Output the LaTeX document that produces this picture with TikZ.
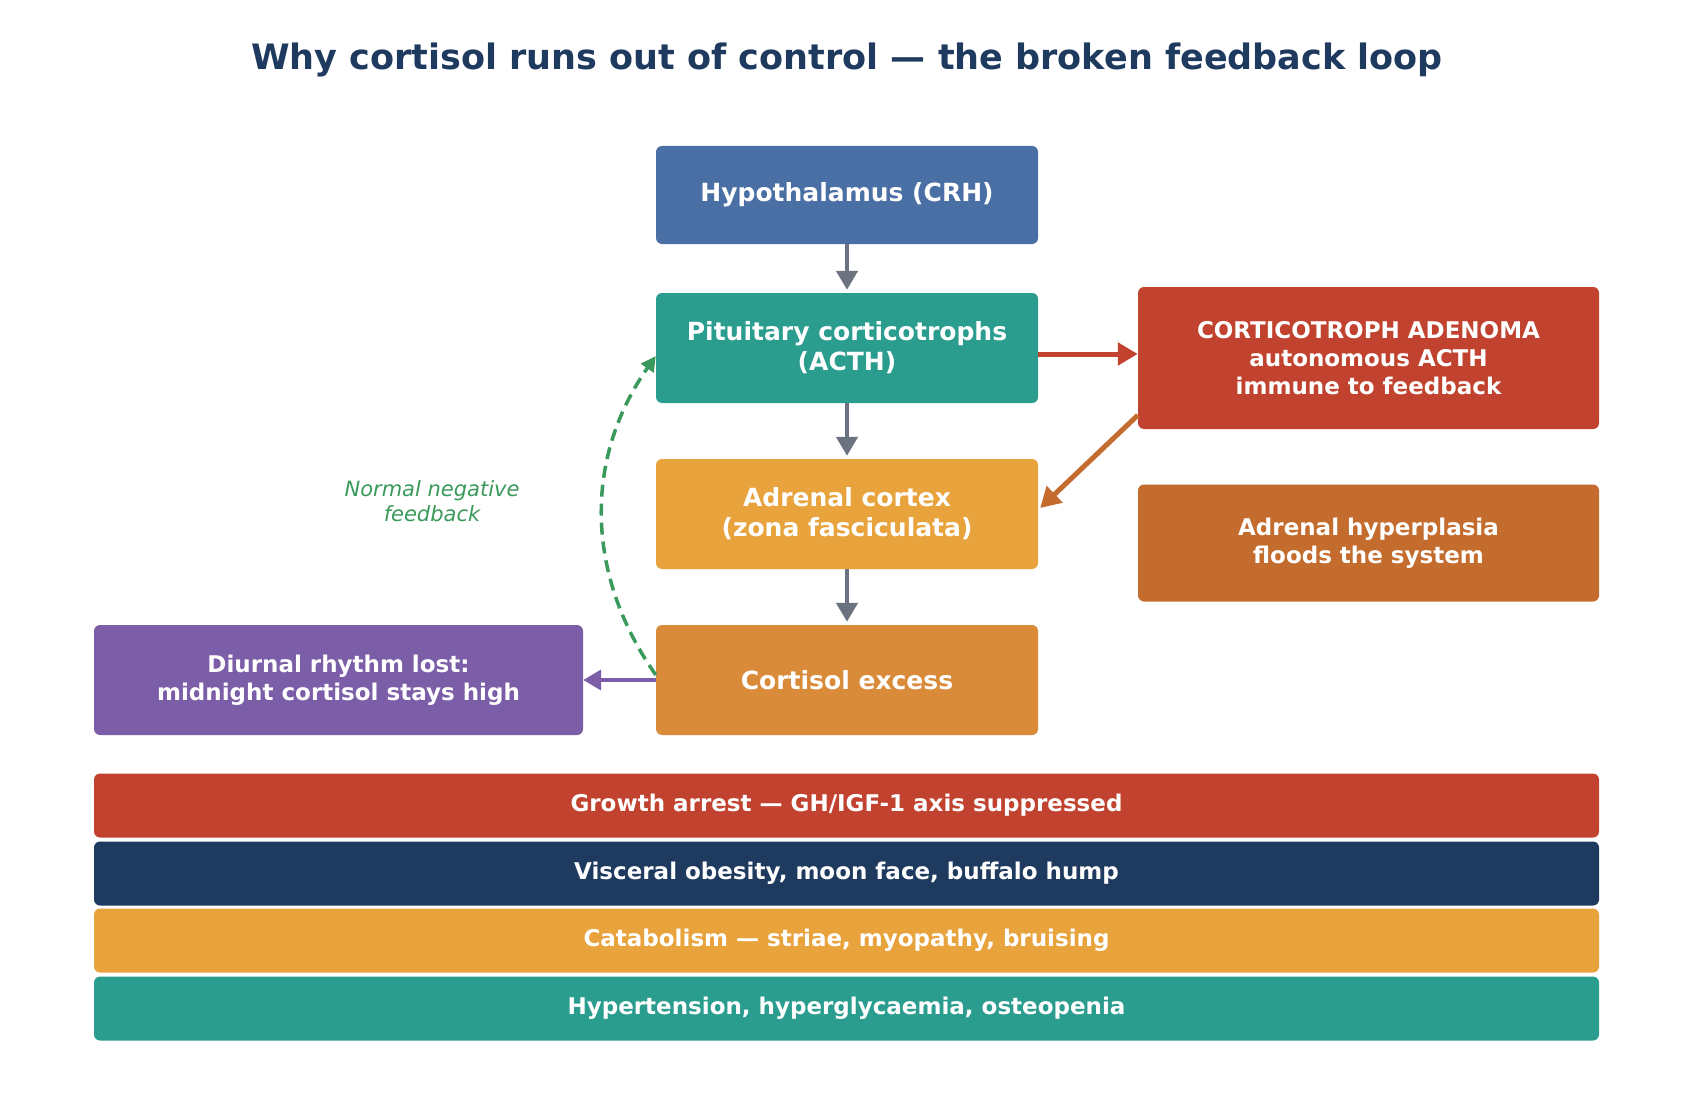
\documentclass[tikz,border=0pt]{standalone}
\usepackage{fontspec}
\setmainfont{DejaVu Sans}
\usetikzlibrary{arrows.meta}
\definecolor{navy}{HTML}{1F3A5F}
\definecolor{hypo}{HTML}{4A6FA5}
\definecolor{teal}{HTML}{2A9D8F}
\definecolor{amber}{HTML}{E8A33D}
\definecolor{cortc}{HTML}{D98B3A}
\definecolor{redc}{HTML}{C1432F}
\definecolor{rust}{HTML}{C46B2E}
\definecolor{purp}{HTML}{7B5EA7}
\definecolor{grayc}{HTML}{6B7280}
\definecolor{greenc}{HTML}{3A9A5B}
\begin{document}
\begin{tikzpicture}[x=1pt,y=-1pt,
  box/.style={rectangle, rounded corners=6pt, text=white, align=center, inner sep=0pt,
    font=\fontsize{25}{30}\selectfont\bfseries},
  sbox/.style={box, font=\fontsize{23}{28}\selectfont\bfseries},
  bar/.style={sbox, minimum width=1505pt, minimum height=64pt},
  flow/.style={line width=4.5pt, grayc, -{Triangle[length=19pt,width=21pt]}},
]
\useasboundingbox[fill=white] (0,0) rectangle (1694,1102);
\node[font=\fontsize{35}{40}\selectfont\bfseries, text=navy] (title) at (847,60)
  {Why cortisol runs out of control — the broken feedback loop};

\node[box, fill=hypo, minimum width=382pt, minimum height=98pt] (hyp) at (847,195) {Hypothalamus (CRH)};
\node[box, fill=teal, minimum width=382pt, minimum height=110pt] (pit) at (847,348) {Pituitary corticotrophs\\(ACTH)};
\node[box, fill=amber, minimum width=382pt, minimum height=110pt] (adr) at (847,514) {Adrenal cortex\\(zona fasciculata)};
\node[box, fill=cortc, minimum width=382pt, minimum height=110pt] (cort) at (847,680) {Cortisol excess};

\node[sbox, fill=redc, minimum width=461pt, minimum height=142pt] (aden) at (1368.5,358)
  {CORTICOTROPH ADENOMA\\autonomous ACTH\\immune to feedback};
\node[sbox, fill=rust, minimum width=461pt, minimum height=117pt] (hyper) at (1368.5,543)
  {Adrenal hyperplasia\\floods the system};
\node[sbox, fill=purp, minimum width=489pt, minimum height=110pt] (diur) at (338.5,680)
  {Diurnal rhythm lost:\\midnight cortisol stays high};

\node[bar, fill=redc] (b1) at (846.5,805.5) {Growth arrest — GH/IGF-1 axis suppressed};
\node[bar, fill=navy] (b2) at (846.5,873.5) {Visceral obesity, moon face, buffalo hump};
\node[bar, fill=amber] (b3) at (846.5,940.5) {Catabolism — striae, myopathy, bruising};
\node[bar, fill=teal] (b4) at (846.5,1008.5) {Hypertension, hyperglycaemia, osteopenia};

\node[text=greenc, align=center, font=\fontsize{21}{25}\selectfont\itshape] (lab) at (432,501)
  {Normal negative\\feedback};

\draw[flow] (hyp.south) -- ([yshift=3pt]pit.north);
\draw[flow] (pit.south) -- ([yshift=3pt]adr.north);
\draw[flow] (adr.south) -- ([yshift=3pt]cort.north);

\draw[line width=5pt, redc, -{Triangle[length=20pt,width=22pt]}]
  ([yshift=-6pt]pit.east) -- ([yshift=4pt]aden.west);
\draw[line width=5pt, rust, -{Triangle[length=20pt,width=22pt]}]
  ([yshift=14pt]aden.south west) -- ([xshift=2pt,yshift=6pt]adr.east);
\draw[line width=4pt, purp, -{Triangle[length=18pt,width=20pt]}]
  (cort.west) -- (diur.east);
\draw[line width=3.5pt, greenc, dash pattern=on 12pt off 7pt, -{Triangle[length=15pt,width=15pt]}]
  ([yshift=5pt]cort.west) to[bend left=35] ([yshift=-8pt]pit.west);
\end{tikzpicture}
\end{document}
